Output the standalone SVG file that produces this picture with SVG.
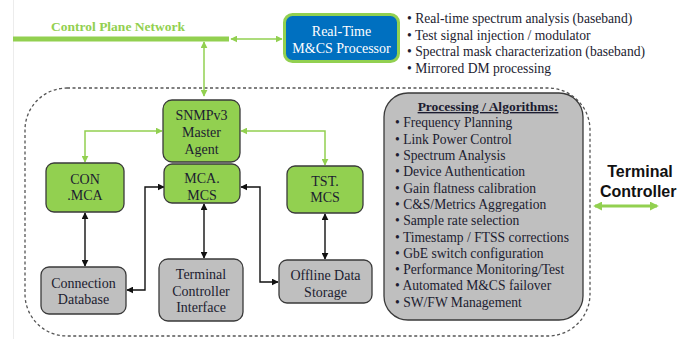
<svg xmlns="http://www.w3.org/2000/svg" width="681" height="339" viewBox="0 0 681 339" font-family="'Liberation Serif','DejaVu Serif',serif">
<style>
text{font-family:'Liberation Serif','DejaVu Serif',serif;fill:#1c1c30;}
.n{font-size:14px;text-anchor:middle;}
.g{fill:#92D050;stroke:#3a3a3a;stroke-width:1.3;}
.y{fill:#BFBFBF;stroke:#3a3a3a;stroke-width:1.3;}
.b{font-size:13.6px;}
.cg{fill:none;stroke:#92D050;stroke-width:1.5;}
.ck{fill:none;stroke:#111;stroke-width:1.4;}
.s{font-family:'Liberation Sans',Arial,sans-serif;font-weight:bold;font-size:16px;fill:#111;}
</style>
<defs>
<marker id="ag" viewBox="0 0 10 10" refX="9" refY="5" markerWidth="7" markerHeight="7" orient="auto-start-reverse" markerUnits="userSpaceOnUse"><path d="M0,0 L10,5 L0,10 z" fill="#92D050"/></marker>
<marker id="ak" viewBox="0 0 10 10" refX="9" refY="5" markerWidth="7" markerHeight="7" orient="auto-start-reverse" markerUnits="userSpaceOnUse"><path d="M0,0 L10,5 L0,10 z" fill="#111"/></marker>
<marker id="aG" viewBox="0 0 10 10" refX="8" refY="5" markerWidth="9" markerHeight="9" orient="auto-start-reverse" markerUnits="userSpaceOnUse"><path d="M0,0 L10,5 L0,10 z" fill="#92D050"/></marker>
</defs>
<rect width="681" height="339" fill="#fff"/>
<line x1="13.5" y1="0" x2="13.5" y2="339" stroke="#ececec" stroke-width="1"/>

<g id="network">
<text x="118" y="31" font-size="13.5" font-weight="bold" text-anchor="middle" style="fill:#92D050">Control Plane Network</text>
<rect x="13" y="36.5" width="216" height="5" fill="#92D050"/>
</g>

<g id="container">
<rect x="25" y="88" width="565" height="248" rx="42" fill="none" stroke="#555" stroke-width="1.3" stroke-dasharray="3,2.5"/>
</g>

<g id="connectors">
<line class="cg" x1="231" y1="39" x2="282" y2="39" marker-start="url(#ag)" marker-end="url(#ag)"/>
<line class="cg" x1="204" y1="42" x2="204" y2="96" marker-start="url(#ag)" marker-end="url(#ag)"/>
<polyline class="cg" points="162,131 85,131 85,162" marker-start="url(#ag)" marker-end="url(#ag)"/>
<polyline class="cg" points="241,131 325,131 325,165" marker-start="url(#ag)" marker-end="url(#ag)"/>
<line class="ck" x1="85" y1="213" x2="85" y2="266" marker-start="url(#ak)" marker-end="url(#ak)"/>
<polyline class="ck" points="127,290 145,290 145,187 164,187" marker-start="url(#ak)" marker-end="url(#ak)"/>
<line class="ck" x1="204" y1="204" x2="204" y2="258" marker-start="url(#ak)" marker-end="url(#ak)"/>
<polyline class="ck" points="241,187 260,187 260,282 278,282" marker-start="url(#ak)" marker-end="url(#ak)"/>
<line class="ck" x1="325" y1="214" x2="325" y2="259" marker-start="url(#ak)" marker-end="url(#ak)"/>
<line x1="595" y1="206" x2="657" y2="206" stroke="#92D050" stroke-width="3" marker-start="url(#aG)" marker-end="url(#aG)"/>
</g>

<g id="realtime">
<rect x="284.5" y="14.5" width="114" height="47" rx="8" fill="#0070C0" stroke="#92D050" stroke-width="3"/>
<text class="n" x="341.5" y="36" style="fill:#fff">Real-Time</text>
<text class="n" x="341.5" y="53" style="fill:#fff">M&amp;CS Processor</text>
</g>

<g id="rt-bullets" class="b">
<text x="407" y="23">• Real-time spectrum analysis (baseband)</text>
<text x="407" y="40">• Test signal injection / modulator</text>
<text x="407" y="56">• Spectral mask characterization (baseband)</text>
<text x="407" y="73">• Mirrored  DM processing</text>
</g>

<g id="snmp">
<rect class="g" x="163" y="100" width="77" height="62" rx="9"/>
<text class="n" x="201.5" y="120">SNMPv3</text>
<text class="n" x="201.5" y="137">Master</text>
<text class="n" x="201.5" y="154">Agent</text>
</g>

<g id="mcamcs">
<rect class="g" x="164" y="164" width="76" height="39" rx="8"/>
<text class="n" x="202" y="183">MCA.</text>
<text class="n" x="202" y="200">MCS</text>
</g>

<g id="conmca">
<rect class="g" x="46" y="163" width="78" height="49" rx="8"/>
<text class="n" x="85" y="184">CON</text>
<text class="n" x="85" y="200">.MCA</text>
</g>

<g id="tstmcs">
<rect class="g" x="287" y="166" width="76" height="47" rx="8"/>
<text class="n" x="325" y="186">TST.</text>
<text class="n" x="325" y="202">MCS</text>
</g>

<g id="conndb">
<rect class="y" x="41" y="267" width="85" height="47" rx="8"/>
<text class="n" x="83.5" y="288">Connection</text>
<text class="n" x="83.5" y="304">Database</text>
</g>

<g id="tci">
<rect class="y" x="159" y="259" width="84" height="62" rx="9"/>
<text class="n" x="201" y="279">Terminal</text>
<text class="n" x="201" y="296">Controller</text>
<text class="n" x="201" y="312">Interface</text>
</g>

<g id="offline">
<rect class="y" x="279" y="260" width="93" height="43" rx="8"/>
<text class="n" x="325.5" y="280">Offline Data</text>
<text class="n" x="325.5" y="297">Storage</text>
</g>

<g id="processing">
<rect class="y" x="384" y="93" width="199" height="227" rx="24"/>
<text x="488" y="111" font-size="13.5" font-weight="bold" text-anchor="middle" text-decoration="underline">Processing / Algorithms:</text>
<g class="b">
<text x="395" y="127">• Frequency Planning</text>
<text x="395" y="143.5">• Link Power Control</text>
<text x="395" y="160">• Spectrum Analysis</text>
<text x="395" y="176">• Device  Authentication</text>
<text x="395" y="193">• Gain flatness calibration</text>
<text x="395" y="209">• C&amp;S/Metrics  Aggregation</text>
<text x="395" y="225">• Sample rate selection</text>
<text x="395" y="241.5">• Timestamp / FTSS corrections</text>
<text x="395" y="258">• GbE switch configuration</text>
<text x="395" y="274">• Performance Monitoring/Test</text>
<text x="395" y="290">• Automated M&amp;CS failover</text>
<text x="395" y="306.5">• SW/FW Management</text>
</g>
</g>

<g id="terminal-controller">
<text class="s" x="640" y="177" text-anchor="middle">Terminal</text>
<text class="s" x="600" y="197">Controller</text>
</g>
</svg>
